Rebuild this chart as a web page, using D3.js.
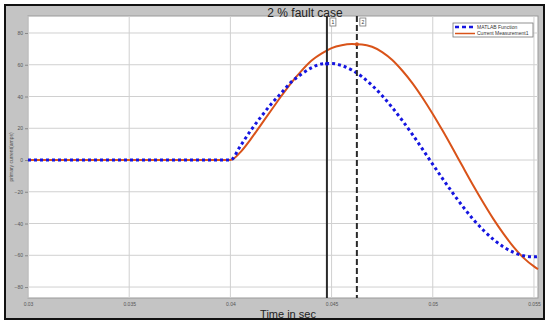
<!DOCTYPE html>
<html>
<head>
<meta charset="utf-8">
<script src="https://cdn.jsdelivr.net/npm/d3@7"></script>
<style>
  body { margin: 0; background: #fff; }
  text { font-family: "Liberation Sans", Arial, sans-serif; }
</style>
</head>
<body>
<div id="chart"></div>
<script>
// time axis (s)
var times = [0.030, 0.035, 0.040, 0.0405, 0.041, 0.0415, 0.042, 0.0425, 0.043, 0.0435, 0.044, 0.0445,
  0.045, 0.0455, 0.046, 0.0465, 0.047, 0.0475, 0.048, 0.0485, 0.049, 0.0495, 0.050, 0.0505,
  0.051, 0.0515, 0.052, 0.0525, 0.053, 0.0535, 0.054, 0.0545, 0.055, 0.0552];

// MATLAB Function (blue dotted)
var matlabValues = [0, 0, 0, 9, 18.5, 27, 35, 42, 49, 54, 58, 60.5,
  60.8, 59.5, 56.7, 52.5, 47, 40.5, 33, 24.8, 16, 6.7, -2.7, -12,
  -21, -29.5, -37.4, -44.2, -50, -54.8, -58.2, -60.3, -61, -60.8];

// Current Measurement1 (orange)
var measValues = [0, 0, 0, 5, 13, 22, 31, 40, 48.5, 56, 62.5, 67,
  70.5, 72.3, 73, 72.8, 71.3, 68, 63, 56.2, 48.3, 39.1, 29, 18.2,
  6.9, -4.6, -16, -26.9, -37.2, -46.5, -54.8, -61.8, -67, -68.7];

var xTicks = [0.03, 0.035, 0.04, 0.045, 0.05, 0.055];
var xTickLabels = ["0.03", "0.035", "0.04", "0.045", "0.05", "0.055"];
var yTicks = [80, 60, 40, 20, 0, -20, -40, -60, -80];

// data cursors
var cursorTimes = [0.04477, 0.04625];
var cursorNames = ["1", "2"];

var seriesNames = ["MATLAB Function", "Current Measurement1"];

var W = 550, H = 326;
var svg = d3.select("#chart").append("svg").attr("width", W).attr("height", H);

// outer figure box
svg.append("rect").attr("x", 5).attr("y", 5).attr("width", 539).attr("height", 314)
  .attr("fill", "#c4c4c4").attr("stroke", "#111").attr("stroke-width", 2);

var plot = { left: 28, top: 16, right: 538, bottom: 298 };

var x = d3.scaleLinear().domain([0.03, 0.0552]).range([plot.left, plot.right]);
var y = d3.scaleLinear().domain([-86.9, 90.7]).range([plot.bottom, plot.top]);

// plot area
svg.append("rect").attr("x", plot.left).attr("y", plot.top)
  .attr("width", plot.right - plot.left).attr("height", plot.bottom - plot.top)
  .attr("fill", "#fff").attr("stroke", "#999").attr("stroke-width", 1);

// grid
svg.append("g").selectAll("line").data(xTicks).enter().append("line")
  .attr("x1", function (d) { return x(d); }).attr("x2", function (d) { return x(d); })
  .attr("y1", plot.top).attr("y2", plot.bottom)
  .attr("stroke", "#d0d0d0").attr("stroke-width", 1);
svg.append("g").selectAll("line").data(yTicks).enter().append("line")
  .attr("x1", plot.left).attr("x2", plot.right)
  .attr("y1", function (d) { return y(d); }).attr("y2", function (d) { return y(d); })
  .attr("stroke", "#d0d0d0").attr("stroke-width", 1);

// axes with tiny labels
var xAxis = d3.axisBottom(x).tickValues(xTicks).tickSize(0).tickPadding(4)
  .tickFormat(function (d, i) { return xTickLabels[i]; });
var gx = svg.append("g").attr("transform", "translate(0," + plot.bottom + ")").call(xAxis);
gx.select(".domain").remove();
gx.selectAll("text").attr("font-size", 5).attr("fill", "#555")
  .attr("font-family", "Liberation Sans, Arial, sans-serif");

var yAxis = d3.axisLeft(y).tickValues(yTicks).tickSize(3).tickPadding(2);
var gy = svg.append("g").attr("transform", "translate(" + plot.left + ",0)").call(yAxis);
gy.select(".domain").remove();
gy.selectAll("line").attr("stroke", "#888");
gy.selectAll("text").attr("font-size", 5).attr("fill", "#555")
  .attr("font-family", "Liberation Sans, Arial, sans-serif");

// curves
var line = d3.line()
  .x(function (d) { return x(d[0]); })
  .y(function (d) { return y(d[1]); })
  .curve(d3.curveMonotoneX);

svg.append("path").datum(d3.zip(times, measValues)).attr("d", line)
  .attr("fill", "none").attr("stroke", "#d95319").attr("stroke-width", 2);

svg.append("path").datum(d3.zip(times, matlabValues)).attr("d", line)
  .attr("fill", "none").attr("stroke", "#1515e0").attr("stroke-width", 3)
  .attr("stroke-dasharray", "3,3");

// cursor lines
svg.append("g").selectAll("line").data(cursorTimes).enter().append("line")
  .attr("x1", function (d) { return x(d); }).attr("x2", function (d) { return x(d); })
  .attr("y1", plot.top).attr("y2", plot.bottom)
  .attr("stroke", "#2a2a2a").attr("stroke-width", 2)
  .attr("stroke-dasharray", function (d, i) { return i === 1 ? "6,3" : null; });

// cursor markers on curves
var interpM = d3.scaleLinear().domain(times).range(matlabValues);
var interpC = d3.scaleLinear().domain(times).range(measValues);
svg.append("circle").attr("cx", x(cursorTimes[0])).attr("cy", y(interpM(cursorTimes[0])))
  .attr("r", 2).attr("fill", "#1515e0");
svg.append("circle").attr("cx", x(cursorTimes[1])).attr("cy", y(interpC(cursorTimes[1])))
  .attr("r", 2).attr("fill", "#d95319");

// cursor labels
var cl = svg.append("g").selectAll("g").data(cursorTimes).enter().append("g")
  .attr("transform", function (d) { return "translate(" + (x(d) + 3) + "," + 18 + ")"; });
cl.append("rect").attr("width", 6).attr("height", 8)
  .attr("fill", "#fff").attr("stroke", "#777").attr("stroke-width", 0.8);
cl.append("text").attr("x", 3).attr("y", 6).attr("text-anchor", "middle")
  .attr("font-size", 5).attr("fill", "#333")
  .text(function (d, i) { return cursorNames[i]; });

// legend
var lg = svg.append("g").attr("transform", "translate(453,23)");
lg.append("rect").attr("width", 80).attr("height", 14)
  .attr("fill", "#fff").attr("stroke", "#777").attr("stroke-width", 0.8);
lg.append("line").attr("x1", 2).attr("x2", 22).attr("y1", 4).attr("y2", 4)
  .attr("stroke", "#1515e0").attr("stroke-width", 2.5).attr("stroke-dasharray", "4,3");
lg.append("line").attr("x1", 2).attr("x2", 22).attr("y1", 10.5).attr("y2", 10.5)
  .attr("stroke", "#d95319").attr("stroke-width", 1.5);
lg.selectAll("text.lab").data(seriesNames).enter().append("text")
  .attr("x", 24).attr("y", function (d, i) { return 5.8 + i * 6.5; })
  .attr("font-size", 5).attr("fill", "#333")
  .text(function (d) { return d; });

// title and labels
svg.append("text").attr("x", 305).attr("y", 17).attr("text-anchor", "middle")
  .attr("font-size", 12).attr("fill", "#222").text("2 % fault case");
svg.append("text").attr("x", 288).attr("y", 318).attr("text-anchor", "middle")
  .attr("font-size", 11).attr("fill", "#222").text("Time in sec");
svg.append("text").attr("transform", "translate(13,157) rotate(-90)")
  .attr("text-anchor", "middle").attr("font-size", 5).attr("fill", "#555")
  .text("primary current(amps)");
</script>
</body>
</html>
